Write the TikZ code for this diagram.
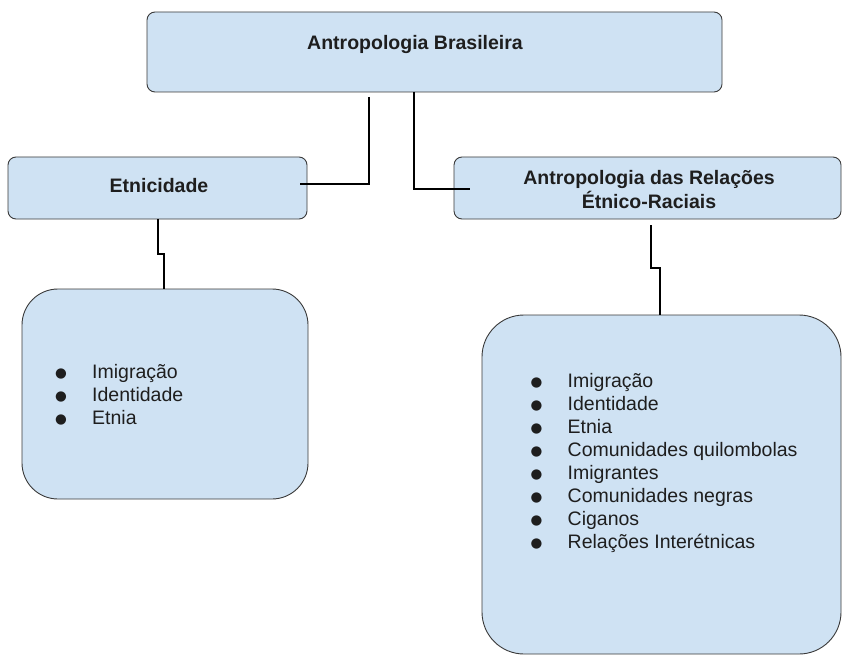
\documentclass[tikz,border=0pt]{standalone}
\usepackage{fontspec}
\setmainfont{Liberation Sans}
\newfontfamily\symfont{DejaVu Sans}
\definecolor{boxfill}{HTML}{CFE2F3}
\definecolor{boxline}{HTML}{3A3A3A}
\definecolor{txt}{HTML}{1E1E1E}
\begin{document}
\begin{tikzpicture}[x=1pt,y=-1pt,
  box/.style={draw=boxline,fill=boxfill,line width=0.9pt,inner sep=0pt,rectangle},
  small/.style={box,rounded corners=8pt},
  big/.style={box,rounded corners=36pt},
  title/.style={font=\fontsize{19.5}{24.5}\selectfont\bfseries,text=txt,align=center,inner sep=0pt},
  listtxt/.style={font=\fontsize{19.5}{23}\selectfont,text=txt,align=left,inner sep=0pt,anchor=west},
  conn/.style={draw=black,line width=1.6pt}]
\useasboundingbox (0,0) rectangle (842,655);
\clip (0,0) rectangle (842,655);
\newcommand{\itm}[1]{\hbox to 37pt{\raisebox{0.6pt}{\symfont\fontsize{13.5}{13.5}\selectfont ●}\hss}#1}
% boxes
\node[small,minimum width=575pt,minimum height=80pt] (top) at (434.5,52) {};
\node[title] (toptxt) at (415,45) {Antropologia Brasileira};
\node[small,minimum width=299pt,minimum height=62pt] (etn) at (157.5,188) {};
\node[title] (etntxt) at (159,186) {Etnicidade};
\node[small,minimum width=387pt,minimum height=62pt] (rel) at (647.5,188) {};
\node[title] (reltxt) at (649,189.5) {Antropologia das Relações\\Étnico-Raciais};
\node[big,minimum width=286pt,minimum height=210pt] (lbox) at (165,394) {};
\node[listtxt] (ltxt) at (55,395) {\itm{Imigração}\\\itm{Identidade}\\\itm{Etnia}};
\node[big,rounded corners=42pt,minimum width=359pt,minimum height=339pt] (rbox) at (661.5,484.5) {};
\node[listtxt] (rtxt) at (530.5,462.5) {\itm{Imigração}\\\itm{Identidade}\\\itm{Etnia}\\\itm{Comunidades quilombolas}\\\itm{Imigrantes}\\\itm{Comunidades negras}\\\itm{Ciganos}\\\itm{Relações Interétnicas}};
% connector points
\coordinate (a1) at (369,97);
\coordinate (a2) at (300,184);
\coordinate (b1) at (414,92);
\coordinate (b2) at (470,189);
\coordinate (e1) at (158,219);
\coordinate (e2) at (164,289);
\coordinate (r1) at (651,225);
\coordinate (r2) at (660,315);
% connectors
\draw[conn] (a1) |- (a2);
\draw[conn] (b1) |- (b2);
\draw[conn] (e1) -- (158,254) -- (164,254) -- (e2);
\draw[conn] (r1) -- (651,268) -- (660,268) -- (r2);
\end{tikzpicture}
\end{document}
